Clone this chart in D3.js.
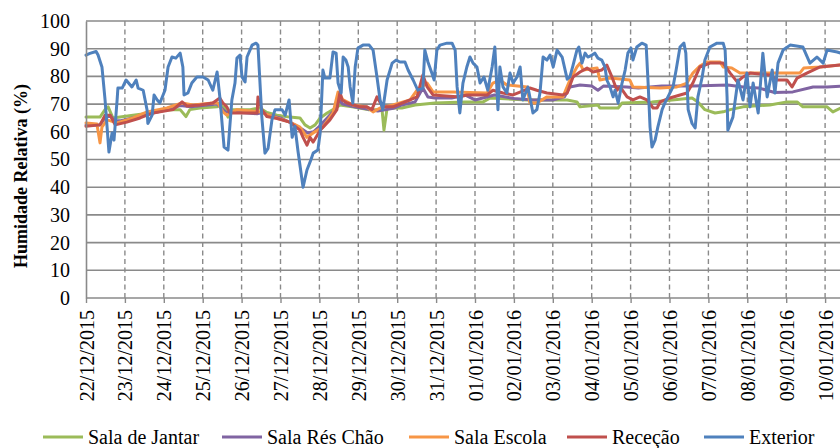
<!DOCTYPE html>
<html>
<head>
<meta charset="utf-8">
<script src="https://cdn.jsdelivr.net/npm/d3@7"></script>
</head>
<body style="margin:0">
<svg id="chart" width="840" height="448" style="display:block"></svg>
<script>
// Relative humidity readings, as [days since 22/12/2015 00:00, RH %]
const salaJantar = [[0,65.3],[0.36,65.3],[0.49,68],[0.57,69],[0.69,65],[1.21,66],[1.65,66.8],[2.08,68],[2.42,68],[2.57,65.5],[2.67,68],[2.93,68.6],[3.37,69],[3.44,69.7],[3.57,68.6],[3.65,65.3],[3.73,68],[4.22,68],[4.47,68.6],[4.65,67],[4.91,66],[5.24,65.3],[5.5,65],[5.63,62.5],[5.76,61.4],[5.89,62.5],[6.02,65],[6.2,66.8],[6.35,68],[6.53,69.7],[6.84,69],[7.25,68],[7.61,68],[7.66,60.6],[7.74,68.6],[8.12,68.6],[8.46,69.7],[8.97,70.4],[9.74,70.8],[10.21,70.8],[10.39,72.2],[11.34,71.5],[12.37,71.5],[12.62,70.8],[12.7,69],[13.16,69.7],[13.21,68.6],[13.68,68.6],[13.78,70.4],[14.55,70.8],[15.58,72.2],[15.73,70.8],[15.91,68],[16.17,66.8],[16.38,67.2],[16.56,68],[16.89,69],[17.58,69.7],[18.02,70.8],[18.28,70.8],[18.43,69],[19.05,69],[19.2,67.2],[19.4,68.6]];

const salaResChao = [[0,62.5],[0.36,62.5],[0.49,65],[0.62,66],[0.72,64],[0.9,64],[1.2,65],[1.65,66.5],[2.1,68],[2.42,69.5],[2.7,69],[3.0,69.5],[3.37,70],[3.45,69],[3.6,67],[4.0,67],[4.4,66.5],[4.55,67],[4.7,66],[5.0,65],[5.3,63],[5.55,61],[5.7,59.6],[5.85,60],[6.0,62],[6.2,65],[6.4,68],[6.5,71.5],[6.6,70],[6.9,69],[7.3,68],[7.5,67.5],[7.9,68.5],[8.12,69.7],[8.46,70.8],[8.66,75.8],[8.79,72.6],[8.97,72.2],[9.4,72.2],[9.74,73.3],[10.0,71.5],[10.5,73.3],[11.0,72],[11.5,71.5],[12.0,71.5],[12.3,72.6],[12.44,76.2],[12.7,76.9],[13.0,76.5],[13.16,75],[13.3,76.5],[13.9,76.2],[14.2,75.8],[14.8,76.5],[15.6,76.5],[16.5,76.9],[17.0,76],[17.3,75.8],[17.7,74.2],[18.17,74.4],[18.69,76.2],[19.05,76.2],[19.4,76.5]];

const salaEscola = [[0,63.2],[0.28,62.8],[0.36,56],[0.41,61.7],[0.54,64.3],[0.8,63.2],[1.21,65],[1.57,67.2],[2.08,68.6],[2.47,70.4],[2.75,69.7],[3.26,70.4],[3.39,70.4],[3.52,67.2],[3.62,66],[3.88,68],[4.47,67.2],[4.91,65],[5.24,63.5],[5.5,61.7],[5.68,58],[5.84,59.6],[6.09,61.7],[6.35,66.8],[6.48,74.4],[6.61,71.5],[6.86,69.7],[7.22,69],[7.38,67.2],[7.56,68.6],[7.89,69.7],[8.33,71.5],[8.51,75],[8.77,77.6],[8.92,74.4],[9.43,74.4],[10.31,74],[10.46,77.6],[10.64,78.7],[10.82,76.9],[11.34,76.2],[11.41,70.4],[11.59,70.4],[11.85,72.6],[12.26,72.6],[12.44,78.7],[12.62,83.4],[12.7,84.8],[12.78,82.3],[13.14,83],[13.21,78.7],[13.47,79.4],[13.98,78.7],[14.06,76.2],[14.76,75.8],[15.19,76.2],[15.45,77.6],[15.6,81.2],[15.78,83.7],[15.96,85.2],[16.3,85.2],[16.38,83.4],[16.6,83],[16.81,81.2],[17.58,81.2],[18.35,81.2],[18.45,83],[18.87,83.4],[19.4,84.1]];

const rececao = [[0,62],[0.36,62.5],[0.49,66],[0.62,66],[0.75,62.5],[1.05,63.5],[1.39,65],[1.72,66.8],[2.24,68],[2.47,70.8],[2.6,69.3],[2.93,69.7],[3.26,70.4],[3.44,72.2],[3.52,70.4],[3.62,69],[3.7,66.8],[4.4,66.8],[4.42,72.6],[4.52,68],[4.65,65.5],[4.91,64.8],[5.24,63.5],[5.5,60.6],[5.58,58],[5.68,55.2],[5.76,58],[5.84,56.3],[6.02,60.6],[6.27,64.3],[6.45,68],[6.53,74.4],[6.58,71.5],[6.71,70.4],[7.04,69],[7.22,69],[7.35,68],[7.48,72.6],[7.63,69],[7.89,69],[8.33,71.5],[8.51,72.6],[8.66,80.5],[8.77,76.2],[8.92,73.3],[9.61,72.6],[9.79,73.3],[10.31,73.3],[10.46,75],[10.72,74],[10.98,73.3],[11.41,75.8],[11.59,75],[11.85,74],[12.26,73.3],[12.37,74],[12.52,79.8],[12.7,81.6],[12.88,83],[13.03,81.6],[13.26,82.3],[13.39,84.1],[13.52,79.8],[13.65,75],[13.73,76.2],[13.91,72.6],[14.06,71.5],[14.24,72.6],[14.42,71.5],[14.58,68.6],[14.68,68.6],[14.76,70.8],[15.01,72.2],[15.27,73.3],[15.45,74],[15.6,77.6],[15.78,83.4],[16.04,84.8],[16.38,84.8],[16.56,81.2],[16.74,78],[16.89,79.8],[17.07,81.2],[17.58,80.5],[17.76,78.7],[18.02,78.7],[18.15,76.2],[18.28,79.4],[18.53,81.2],[18.87,83.4],[19.4,84.1]];

const exterior = [[0,87.7],[0.1,88.3],[0.26,89],[0.31,87.7],[0.41,83.4],[0.49,71.5],[0.59,52.7],[0.67,59.6],[0.72,57],[0.8,71.5],[0.82,75.8],[0.93,75.8],[1.03,78.7],[1.18,76.2],[1.29,78.7],[1.34,75.8],[1.47,75],[1.57,67.9],[1.59,63],[1.7,66],[1.75,73.3],[1.83,71.5],[1.9,70.4],[2.03,75],[2.11,83.4],[2.21,87],[2.31,86.6],[2.42,88.4],[2.49,83.4],[2.52,73.3],[2.62,74],[2.72,77.6],[2.85,79.8],[3.01,79.8],[3.14,78.7],[3.26,75],[3.37,81.6],[3.44,72.6],[3.55,54.5],[3.65,53.4],[3.75,71.5],[3.83,77.6],[3.88,86.6],[3.96,87.7],[4.01,79.8],[4.09,78],[4.14,87],[4.27,91.3],[4.37,92],[4.42,91.3],[4.52,65.3],[4.6,52.3],[4.68,54],[4.78,64.3],[4.86,68],[5.04,68],[5.12,66],[5.22,71.5],[5.3,58],[5.37,62],[5.45,53],[5.58,40],[5.68,46.2],[5.78,49.8],[5.84,52.3],[5.96,53.4],[6.02,59.6],[6.09,82.3],[6.14,79.4],[6.27,79.4],[6.35,88.8],[6.43,88.4],[6.48,77.6],[6.56,74],[6.61,87],[6.68,85.9],[6.74,83.4],[6.79,76.2],[6.86,70.4],[6.92,83.4],[6.99,90.2],[7.12,91.3],[7.28,91.3],[7.38,89.5],[7.48,79.8],[7.56,71.5],[7.63,68],[7.74,78.7],[7.87,84.8],[7.97,85.9],[8.07,85.2],[8.2,85.2],[8.28,82.3],[8.41,78.7],[8.53,75],[8.66,75.8],[8.71,89.5],[8.79,85.2],[8.89,81.2],[8.95,78.7],[9.02,89.5],[9.1,91.3],[9.28,92],[9.41,92],[9.49,89.5],[9.54,76.2],[9.61,66.8],[9.69,77.6],[9.79,83.4],[9.87,87],[9.95,84.8],[10.05,83.4],[10.13,77.6],[10.23,79.8],[10.33,75],[10.44,83.4],[10.51,90.6],[10.59,68],[10.64,83.4],[10.72,76.2],[10.82,74],[10.9,81.2],[10.98,77.6],[11.08,79.8],[11.16,83.4],[11.23,71.5],[11.36,76.2],[11.49,66.8],[11.59,68],[11.67,74],[11.75,87],[11.85,85.9],[11.93,87.7],[12.01,83.4],[12.11,89.5],[12.24,87],[12.37,79],[12.44,79.8],[12.52,84],[12.62,89.5],[12.67,90.6],[12.75,84.8],[12.83,88.4],[12.9,87],[13.01,87.7],[13.08,88.4],[13.16,86.6],[13.26,85.9],[13.34,83.4],[13.39,78.7],[13.47,76.2],[13.55,72.6],[13.6,75],[13.68,70.4],[13.78,77.6],[13.86,82.3],[13.93,88.4],[14.01,90.2],[14.06,85.9],[14.16,90.6],[14.29,92],[14.4,91.3],[14.45,77.6],[14.5,61.7],[14.55,54.5],[14.63,57],[14.7,61.7],[14.81,68],[14.88,70.4],[14.96,72.6],[15.09,76.2],[15.17,82.3],[15.27,90.6],[15.37,92],[15.42,88.4],[15.48,68],[15.58,63],[15.66,61.4],[15.73,72.6],[15.84,79.8],[15.91,85.9],[16.04,90.6],[16.22,92],[16.38,92],[16.43,89.5],[16.48,72.6],[16.5,60.6],[16.63,65.3],[16.76,78.7],[16.89,71.5],[16.99,81.2],[17.07,69],[17.15,77.6],[17.28,66.8],[17.4,88.4],[17.51,72.6],[17.64,82.3],[17.71,74],[17.79,84.8],[17.92,89.5],[18.1,91.3],[18.43,90.6],[18.61,84.8],[18.79,87],[18.95,84.8],[19.05,89.5],[19.31,88.8],[19.4,88.4]];

const seriesNames = ["Sala de Jantar", "Sala Rés Chão", "Sala Escola", "Receção", "Exterior"];
const seriesData = [salaJantar, salaResChao, salaEscola, rececao, exterior];
const seriesColors = ["#9bbb59", "#8064a2", "#f79646", "#c0504d", "#4f81bd"];
const yTicks = [0, 10, 20, 30, 40, 50, 60, 70, 80, 90, 100];
const yTitle = "Humidade Relativa (%)";

// legend layout: left edge of each key line
const legendX = [43, 222, 409, 567, 704];

// text is set at 22px and scaled down, so the serif face is picked at that size
const serif = "'Liberation Serif', 'Times New Roman', FreeSerif, monospace";
const k = 20 / 22;
const startDate = new Date(2015, 11, 22);
const dayCount = 20;
const toDate = d => new Date(startDate.getTime() + d * 86400000);

const svg = d3.select("#chart");
const plot = { left: 86, top: 21, bottom: 298, dayWidth: 38.9 };

const x = d3.scaleTime()
  .domain([startDate, d3.timeDay.offset(startDate, dayCount)])
  .range([plot.left, plot.left + dayCount * plot.dayWidth]);
const y = d3.scaleLinear().domain([0, 100]).range([plot.bottom, plot.top]);

const dayTicks = d3.timeDay.range(startDate, d3.timeDay.offset(startDate, dayCount));
const gridColor = "#8a8a8a";

// horizontal gridlines
svg.append("g").selectAll("line").data(yTicks.filter(v => v > 0)).join("line")
  .attr("x1", plot.left).attr("x2", 840)
  .attr("y1", d => y(d)).attr("y2", d => y(d))
  .attr("stroke", gridColor).attr("stroke-width", 1.6);

// vertical dashed day lines
svg.append("g").selectAll("line").data(dayTicks.slice(1)).join("line")
  .attr("x1", d => x(d)).attr("x2", d => x(d))
  .attr("y1", plot.top).attr("y2", plot.bottom)
  .attr("stroke", gridColor).attr("stroke-width", 1.4)
  .attr("stroke-dasharray", "5,3.5");

// series lines
const line = d3.line().x(d => x(toDate(d[0]))).y(d => y(d[1]));
svg.append("g").selectAll("path").data(seriesData).join("path")
  .attr("d", line)
  .attr("fill", "none")
  .attr("stroke", (d, i) => seriesColors[i])
  .attr("stroke-width", 3)
  .attr("stroke-linejoin", "round")
  .attr("stroke-linecap", "round");

// x axis: one rotated date label per day
const xAxis = svg.append("g")
  .attr("transform", `translate(0,${plot.bottom})`)
  .call(d3.axisBottom(x).tickValues(dayTicks).tickFormat(d3.timeFormat("%d/%m/%Y")).tickSizeInner(5).tickSizeOuter(0));
xAxis.attr("font-family", null).attr("font-size", null);
xAxis.select(".domain").attr("stroke", gridColor).attr("stroke-width", 1.6).attr("d", `M${plot.left},0H840`);
xAxis.selectAll(".tick line").attr("stroke", gridColor).attr("stroke-width", 1.4);
xAxis.selectAll(".tick text")
  .style("font-family", d => serif)
  .style("font-size", "22px")
  .attr("fill", "#000")
  .attr("text-anchor", "end")
  .attr("transform", `rotate(-90) scale(${k})`)
  .attr("x", -12 / k).attr("y", 0).attr("dy", "0.35em");

// y axis
const yAxis = svg.append("g")
  .attr("transform", `translate(${plot.left},0)`)
  .call(d3.axisLeft(y).tickValues(yTicks).tickSize(0).tickPadding(16));
yAxis.attr("font-family", null).attr("font-size", null);
yAxis.select(".domain").attr("stroke", gridColor).attr("stroke-width", 1.6);
yAxis.selectAll(".tick text")
  .style("font-family", d => serif)
  .style("font-size", "22px")
  .attr("fill", "#000")
  .attr("transform", `scale(${k})`)
  .attr("x", -16 / k);

svg.append("text")
  .attr("transform", `translate(21,176) rotate(-90) scale(${18 / 22})`)
  .attr("text-anchor", "middle")
  .attr("dy", "0.35em")
  .style("font-family", serif)
  .style("font-size", "22px")
  .style("font-weight", "bold")
  .text(yTitle);

// legend
const legend = svg.append("g").attr("transform", "translate(0,437)");
const items = legend.selectAll("g").data(seriesNames).join("g")
  .attr("transform", (d, i) => `translate(${legendX[i]},0)`);
items.append("line")
  .attr("x1", 0).attr("x2", 40).attr("y1", 0).attr("y2", 0)
  .attr("stroke", (d, i) => seriesColors[i]).attr("stroke-width", 3);
items.append("text")
  .attr("transform", `scale(${k})`)
  .attr("x", 45 / k).attr("dy", "0.35em")
  .style("font-family", d => serif)
  .style("font-size", "22px")
  .text(d => d);
</script>
</body>
</html>
